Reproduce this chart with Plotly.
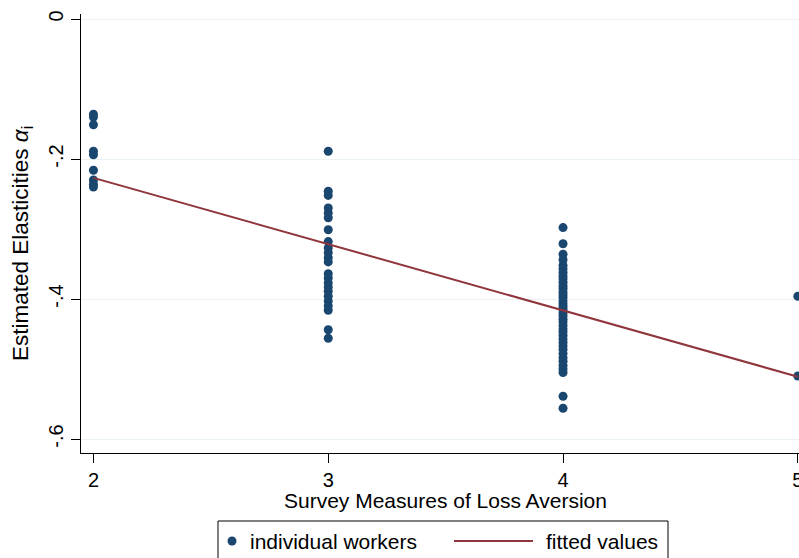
import plotly.graph_objects as go

# Survey measure (x) and estimated elasticity (y) for each worker, grouped by survey score
score_2 = [-0.136, -0.140, -0.151, -0.189, -0.194, -0.216, -0.230, -0.236, -0.240]
score_3 = [-0.189, -0.246, -0.252, -0.270, -0.277, -0.284, -0.301, -0.318, -0.327,
           -0.334, -0.341, -0.347, -0.364, -0.370, -0.377, -0.383, -0.389, -0.396,
           -0.403, -0.410, -0.416, -0.444, -0.456]
score_4 = [-0.298, -0.321, -0.336, -0.344, -0.352, -0.357, -0.362, -0.367, -0.371,
           -0.376, -0.381, -0.385, -0.390, -0.394, -0.398, -0.403, -0.407, -0.411,
           -0.415, -0.420, -0.424, -0.429, -0.433, -0.438, -0.443, -0.447, -0.452,
           -0.457, -0.462, -0.467, -0.472, -0.478, -0.484, -0.489, -0.495, -0.500,
           -0.505, -0.539, -0.556]
score_5 = [-0.396, -0.510]

# Linear fit endpoints over the observed range of the survey measure
fit_x = [2, 5]
fit_y = [-0.227, -0.511]

y_ticks = [0, -0.2, -0.4, -0.6]
y_tick_labels = ["0", "-.2", "-.4", "-.6"]
x_ticks = [2, 3, 4, 5]

SCATTER_NAME = "individual workers"
FIT_NAME = "fitted values"
X_TITLE = "Survey Measures of Loss Aversion"
Y_TITLE = "Estimated Elasticities <i>α</i><sub>i</sub>"

xs, ys = [], []
for score, vals in ((2, score_2), (3, score_3), (4, score_4), (5, score_5)):
    xs += [score] * len(vals)
    ys += vals

NAVY = "#1a476f"
MAROON = "#90353b"
GRID = "#eaf2f3"
FONT = "Liberation Sans, Arial, Helvetica, sans-serif"
FS = 21

W, H = 799, 558
M_L, M_R, M_T, M_B = 81, 0, 14, 105
PLOT_W = W - M_L - M_R
PLOT_H = H - M_T - M_B


def px_x(p):
    """Pixel column -> paper x."""
    return (p - M_L) / PLOT_W


def px_y(p):
    """Pixel row -> paper y."""
    return (H - M_B - p) / PLOT_H


fig = go.Figure()
fig.add_trace(go.Scatter(
    x=xs, y=ys, mode="markers", name=SCATTER_NAME,
    marker=dict(color=NAVY, size=9, line=dict(width=0)),
))
fig.add_trace(go.Scatter(
    x=fit_x, y=fit_y, mode="lines", name=FIT_NAME,
    line=dict(color=MAROON, width=2),
))

# Legend box below the plot, with a dot key and a long line key
key_y = 541
shapes = [
    dict(type="rect", xref="paper", yref="paper",
         x0=px_x(218), x1=px_x(668), y0=px_y(575), y1=px_y(521),
         line=dict(color="black", width=1), fillcolor="white", layer="above"),
    dict(type="circle", xref="paper", yref="paper",
         x0=px_x(227.5), x1=px_x(236.5), y0=px_y(key_y + 4.5), y1=px_y(key_y - 4.5),
         line=dict(width=0), fillcolor=NAVY, layer="above"),
    dict(type="line", xref="paper", yref="paper",
         x0=px_x(454), x1=px_x(533), y0=px_y(key_y), y1=px_y(key_y),
         line=dict(color=MAROON, width=2), layer="above"),
]
annotations = [
    dict(text=SCATTER_NAME, xref="paper", yref="paper", x=px_x(248), y=px_y(key_y),
         xanchor="left", yanchor="middle", showarrow=False, font=dict(size=FS)),
    dict(text=FIT_NAME, xref="paper", yref="paper", x=px_x(544), y=px_y(key_y),
         xanchor="left", yanchor="middle", showarrow=False, font=dict(size=FS)),
    # axis titles
    dict(text=X_TITLE, xref="paper", yref="paper", x=px_x(445), y=px_y(501),
         xanchor="center", yanchor="middle", showarrow=False, font=dict(size=FS)),
    dict(text=Y_TITLE, xref="paper", yref="paper", x=px_x(22), y=px_y(244),
         xanchor="center", yanchor="middle", textangle=-90, showarrow=False,
         font=dict(size=22.5)),
]

fig.update_layout(
    width=W, height=H,
    margin=dict(l=M_L, r=M_R, t=M_T, b=M_B),
    paper_bgcolor="white", plot_bgcolor="white",
    font=dict(family=FONT, size=FS, color="black"),
    showlegend=False,
    shapes=shapes,
    annotations=annotations,
    xaxis=dict(
        range=[1.947, 5.005], tickvals=x_ticks, ticks="outside", ticklen=9,
        tickcolor="black", showline=True, linecolor="black", linewidth=1,
        showgrid=False, zeroline=False, ticklabeloverflow="allow",
        automargin=False, tickfont=dict(size=20),
    ),
    yaxis=dict(
        range=[-0.62, 0.00714], tickvals=y_ticks, ticktext=y_tick_labels,
        tickangle=-90, ticks="outside", ticklen=9, tickcolor="black",
        showline=True, linecolor="black", linewidth=1,
        showgrid=True, gridcolor=GRID, gridwidth=1, zeroline=False,
        automargin=False, tickfont=dict(size=20),
    ),
)

fig.write_html("out.html")
